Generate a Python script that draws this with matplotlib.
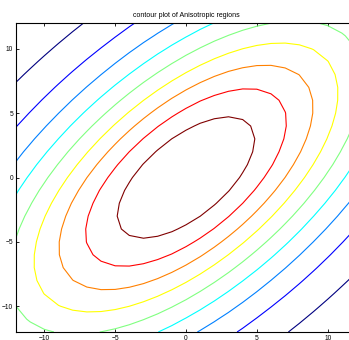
import numpy as np
import matplotlib
matplotlib.use("Agg")
import matplotlib.pyplot as plt

# quadratic form of the anisotropic gaussian  z = exp(-(a x^2 + 2 b x y + c y^2))
coef_a = 0.0073
coef_b = -0.0047
coef_c = 0.0077

# grid and contour levels
grid_x = np.arange(-12, 12.01, 1.0)
grid_y = np.arange(-12, 12.01, 1.0)
levels = [0.1, 0.2, 0.3, 0.4, 0.5, 0.6, 0.7, 0.8, 0.9]

ticks = [-10, -5, 0, 5, 10]
title = "contour plot of Anisotropic regions"

X, Y = np.meshgrid(grid_x, grid_y)
Z = np.exp(-(coef_a * X**2 + 2 * coef_b * X * Y + coef_c * Y**2))

# matlab style jet, one colour per level
t = np.linspace(0, 1, len(levels))
colors = np.stack([np.clip(1.5 - np.abs(4 * t - 3), 0, 1),
                   np.clip(1.5 - np.abs(4 * t - 2), 0, 1),
                   np.clip(1.5 - np.abs(4 * t - 1), 0, 1)], axis=1)

plt.rcParams["font.family"] = ["Liberation Sans", "DejaVu Sans"]

fig = plt.figure(figsize=(3.49, 3.40), dpi=100)
ax = fig.add_axes([16 / 349, 8 / 340, 340 / 349, 309 / 340])
ax.contour(X, Y, Z, levels=levels, colors=colors, linewidths=0.8)

ax.set_xlim(-12, 12)
ax.set_ylim(-12, 12)
ax.set_xticks(ticks)
ax.set_yticks(ticks)
ax.tick_params(direction="in", length=2.5, width=0.6, labelsize=4.8, pad=2,
               top=True, right=True)
for s in ax.spines.values():
    s.set_linewidth(0.8)
ax.set_title(title, fontsize=5, pad=4)

fig.savefig("out.png", dpi=100)
